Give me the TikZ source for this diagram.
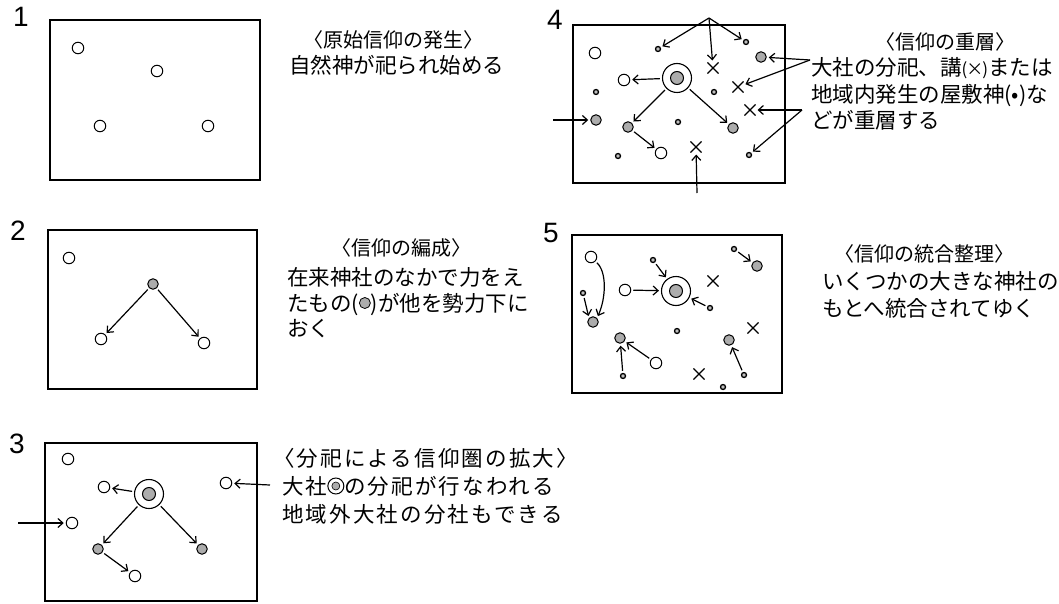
\documentclass[tikz,border=0pt]{standalone}
\usepackage{fontspec}
\setmainfont{Liberation Sans}
\newfontfamily\jp{Noto Sans CJK JP}
\newfontfamily\jpw[LetterSpace=10]{Noto Sans CJK JP}
\usetikzlibrary{arrows.meta,shapes.misc}
\newcommand\shdsym{\tikz[x=1pt,y=1pt,baseline=0pt]{\filldraw[fill=gray!65,line width=0.8pt] (0,8) circle (5.5);}}
\newcommand\bigsym{\tikz[x=1pt,y=1pt,baseline=0pt]{\draw[line width=1pt] (0,8) circle (8);\filldraw[fill=gray!65,line width=0.6pt] (0,8) circle (4);}}
\begin{document}
\begin{tikzpicture}[x=1pt,y=-1pt,
  panel/.style={draw,line width=1.3pt},
  hol/.style={circle,draw,inner sep=0pt,minimum size=11.5pt,line width=1pt},
  shd/.style={circle,draw,fill=gray!65,inner sep=0pt,minimum size=10.5pt,line width=1pt},
  dotn/.style={circle,draw,fill=gray!50,inner sep=0pt,minimum size=5pt,line width=1.3pt},
  big/.style={circle,draw,inner sep=0pt,minimum size=29pt,line width=1.1pt},
  bigin/.style={circle,draw,fill=gray!65,inner sep=0pt,minimum size=13pt,line width=1pt},
  xm/.style={cross out,draw,inner sep=0pt,minimum size=10pt,line width=1.1pt},
  arr/.style={-{Straight Barb[length=5pt,width=9pt]},line width=1.2pt,shorten >=2pt,shorten <=2pt},
  jt/.style={anchor=base west,inner sep=0pt,font=\jp\fontsize{21.5}{26}\selectfont},
  jtw/.style={anchor=base west,inner sep=0pt,font=\jpw\fontsize{21.5}{26}\selectfont},
  ttl/.style={anchor=base,inner sep=0pt,font=\jp\fontsize{20}{24}\selectfont},
  num/.style={inner sep=0pt,font=\fontsize{28}{30}\selectfont}]
\fill[white] (0,0) rectangle (1059,604);
\useasboundingbox (0,0) rectangle (1059,604);

% ---------- Panel 1 ----------
\node[num] (n1) at (21,17) {1};
\draw[panel] (50,20) rectangle (260,180);
\node[hol] (p1a) at (78,48) {};
\node[hol] (p1b) at (157,71) {};
\node[hol] (p1c) at (100,126) {};
\node[hol] (p1d) at (208,126) {};
\node[ttl] (t1a) at (393,47.6) {〈原始信仰の発生〉};
\node[jt] (t1b) at (289,74) {自然神が祀られ始める};

% ---------- Panel 2 ----------
\node[num] (n2) at (18,231) {2};
\draw[panel] (48,230) rectangle (257,389);
\node[hol] (p2a) at (69,258) {};
\node[shd] (p2s) at (153,284) {};
\node[hol] (p2b) at (101,339) {};
\node[hol] (p2c) at (204,343) {};
\draw[arr] (p2s) -- (p2b);
\draw[arr] (p2s) -- (p2c);
\node[ttl] (t2a) at (401,255.6) {〈信仰の編成〉};
\node[jt] (t2b) at (287,285) {在来神社のなかで力をえ};
\node[jt] (t2c) at (287,311) {たもの(\shdsym)が他を勢力下に};
\node[jt] (t2d) at (287,336) {おく};

% ---------- Panel 3 ----------
\node[num] (n3) at (17,444) {3};
\draw[panel] (45,443) rectangle (257,601);
\node[hol] (p3a) at (68,459) {};
\node[hol] (p3b) at (104,487) {};
\node[big] (p3g) at (149,494) {};
\node[bigin] (p3gi) at (149,494) {};
\node[hol] (p3c) at (226,483) {};
\node[hol] (p3d) at (72,523) {};
\node[shd] (p3s1) at (98,549) {};
\node[shd] (p3s2) at (202,549) {};
\node[hol] (p3e) at (135,576) {};
\coordinate (p3r) at (270,485);
\coordinate (p3l) at (18,523);
\draw[arr] (p3g) -- (p3b);
\draw[arr,shorten <=0pt] (p3r) -- (p3c);
\draw[arr,shorten <=0pt] (p3l) -- (p3d);
\draw[arr] (p3g) -- (p3s1);
\draw[arr] (p3g) -- (p3s2);
\draw[arr] (p3s1) -- (p3e);
\node[jtw] (t3a) at (273,466) {〈分祀による信仰圏の拡大〉};
\node[jtw] (t3b) at (282,494) {大社\bigsym の分祀が行なわれる};
\node[jtw] (t3c) at (282,522) {地域外大社の分社もできる};

% ---------- Panel 4 ----------
\node[num] (n4) at (555,20) {4};
\draw[panel] (573,25) rectangle (785,183);
\node[hol] (p4h1) at (595,53) {};
\node[hol] (p4h2) at (624,80) {};
\node[hol] (p4h3) at (661,153) {};
\node[dotn] (p4d1) at (658,49) {};
\node[dotn] (p4d2) at (746,42) {};
\node[dotn] (p4d3) at (596,92) {};
\node[dotn] (p4d4) at (714,92) {};
\node[dotn] (p4d5) at (678,122) {};
\node[dotn] (p4d6) at (618,156) {};
\node[dotn] (p4d7) at (749,155) {};
\node[shd] (p4s1) at (761,57) {};
\node[shd] (p4s2) at (596,120) {};
\node[shd] (p4s3) at (628,127) {};
\node[shd] (p4s4) at (733,128) {};
\node[xm] (p4x1) at (713,68) {};
\node[xm] (p4x2) at (738,87) {};
\node[xm] (p4x3) at (750,110) {};
\node[xm] (p4x4) at (696,147) {};
\node[big] (p4g) at (677,78) {};
\node[bigin] (p4gi) at (677,78) {};
\coordinate (p4A) at (709,18);
\coordinate (p4B) at (810,60);
\coordinate (p4C) at (802,110);
\coordinate (p4L) at (553,120);
\coordinate (p4D) at (697,193);
\draw[arr,shorten <=0pt] (p4A) -- (p4d1);
\draw[arr,shorten <=0pt] (p4A) -- (p4x1);
\draw[arr,shorten <=0pt] (p4A) -- (p4d2);
\draw[arr,shorten <=0pt] (p4B) -- (p4s1);
\draw[arr,shorten <=0pt] (p4B) -- (p4x2);
\draw[arr,shorten <=0pt] (p4C) -- (p4x3);
\draw[arr,shorten <=0pt] (p4C) -- (p4d7);
\draw[arr,shorten <=0pt] (p4L) -- (p4s2);
\draw[arr,shorten <=0pt] (p4D) -- (p4x4);
\draw[arr] (p4g) -- (p4h2);
\draw[arr] (p4g) -- (p4s3);
\draw[arr] (p4g) -- (p4s4);
\draw[arr] (p4s3) -- (p4h3);
\node[ttl] (t4a) at (945,49.6) {〈信仰の重層〉};
\node[jt] (t4b) at (811,76) {大社の分祀、講{\fontsize{17}{20}\selectfont(\kern-1pt×\kern-1pt)}または};
\node[jt] (t4c) at (811,103) {地域内発生の屋敷神(•)な};
\node[jt] (t4d) at (811,129) {どが重層する};

% ---------- Panel 5 ----------
\node[num] (n5) at (551,233) {5};
\draw[panel] (572,235) rectangle (782,393);
\node[hol] (p5h1) at (591,257) {};
\node[hol] (p5h2) at (625,290) {};
\node[hol] (p5h3) at (656,363) {};
\node[dotn] (p5d1) at (583,293) {};
\node[dotn] (p5d2) at (653,260) {};
\node[dotn] (p5d3) at (710,308) {};
\node[dotn] (p5d4) at (734,249) {};
\node[dotn] (p5d5) at (677,331) {};
\node[dotn] (p5d6) at (623,376) {};
\node[dotn] (p5d7) at (744,375) {};
\node[dotn] (p5d8) at (723,387) {};
\node[shd] (p5s1) at (593,322) {};
\node[shd] (p5s2) at (757,266) {};
\node[shd] (p5s3) at (620,338) {};
\node[shd] (p5s4) at (729,340) {};
\node[xm] (p5x1) at (713,281) {};
\node[xm] (p5x2) at (753,328) {};
\node[xm] (p5x3) at (699,374) {};
\node[big] (p5g) at (676,291) {};
\node[bigin] (p5gi) at (676,291) {};
\draw[arr] (p5h1.south east) .. controls (607,272) and (606,298) .. (p5s1.north east);
\draw[arr] (p5d1) -- (p5s1.north west);
\draw[arr] (p5h2) -- (p5g);
\draw[arr] (p5d2) -- (p5g);
\draw[arr] (p5d3) -- (p5g);
\draw[arr] (p5d4) -- (p5s2);
\draw[arr] (p5h3) -- (p5s3);
\draw[arr] (p5d6) -- (p5s3);
\draw[arr] (p5d7) -- (p5s4);
\node[ttl] (t5a) at (924,261.6) {〈信仰の統合整理〉};
\node[jt] (t5b) at (822,289) {いくつかの大きな神社の};
\node[jt] (t5c) at (822,316) {もとへ統合されてゆく};
\end{tikzpicture}
\end{document}
